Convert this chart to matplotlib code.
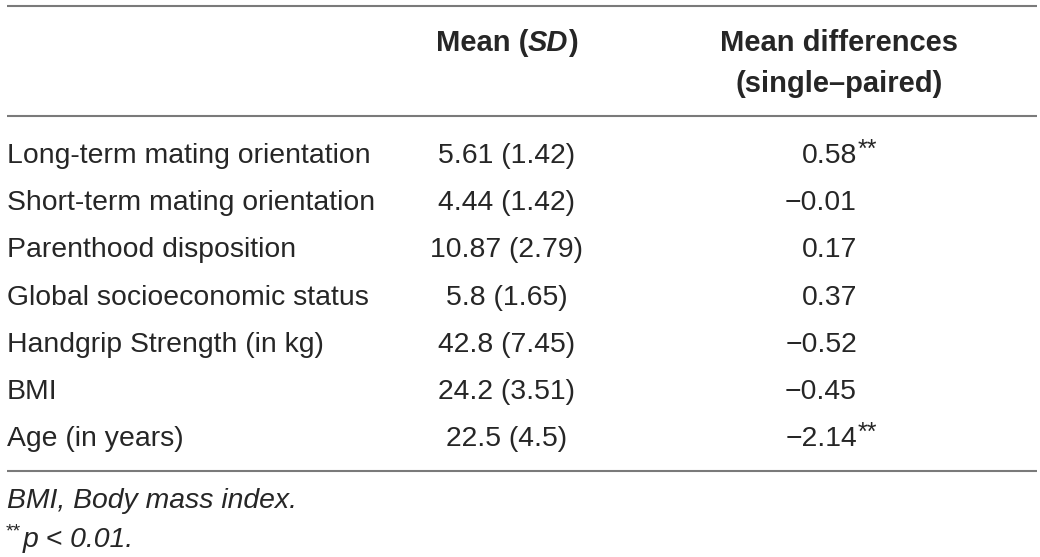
import matplotlib
matplotlib.use("Agg")
import matplotlib.pyplot as plt

# table content
row_labels = ["Long-term mating orientation", "Short-term mating orientation",
              "Parenthood disposition", "Global socioeconomic status",
              "Handgrip Strength (in kg)", "BMI", "Age (in years)"]
means = ["5.61", "4.44", "10.87", "5.8", "42.8", "24.2", "22.5"]
sds = ["1.42", "1.42", "2.79", "1.65", "7.45", "3.51", "4.5"]
diffs = [0.58, -0.01, 0.17, 0.37, -0.52, -0.45, -2.14]
diff_sig = ["**", "", "", "", "", "", "**"]
footnote_1 = "BMI, Body mass index."
footnote_2 = "p < 0.01."

plt.rcParams['font.family'] = ['Liberation Sans', 'DejaVu Sans']
txt_color = "#262626"
line_color = "#7a7a7a"
fs = 20.4

fig = plt.figure(figsize=(10.4, 5.57), dpi=100)
ax = fig.add_axes([0, 0, 1, 1])
ax.set_xlim(0, 1040)
ax.set_ylim(557, 0)
ax.axis("off")

renderer = fig.canvas.get_renderer()


def text_width(s, **kw):
    t = ax.text(0, 0, s, fontsize=kw.pop("fontsize", fs), **kw)
    bb = t.get_window_extent(renderer=renderer)
    t.remove()
    return bb.width


def draw_runs(xc, y, runs, size):
    # runs: list of (text, kwargs), drawn side by side, centred on xc
    widths = [text_width(s, fontsize=size, **kw) for s, kw in runs]
    x = xc - sum(widths) / 2
    for (s, kw), w in zip(runs, widths):
        ax.text(x, y, s, fontsize=size, color=txt_color, va="baseline", ha="left", **kw)
        x += w


# rules
for y in [6, 116, 471]:
    ax.plot([7, 1037], [y, y], color=line_color, lw=1.5, solid_capstyle="butt")

# header
head_fs = 21
col1_x = 507
col2_x = 839
draw_runs(col1_x, 51, [("Mean (", dict(fontweight="bold")),
                       ("SD", dict(fontweight="bold", fontstyle="italic")),
                       (")", dict(fontweight="bold"))], head_fs)
ax.text(col2_x, 51, "Mean differences", fontsize=head_fs, fontweight="bold",
        color=txt_color, ha="center", va="baseline")
ax.text(col2_x, 92, "(single\u2013paired)", fontsize=head_fs, fontweight="bold",
        color=txt_color, ha="center", va="baseline")

# body rows
y0 = 163
step = 47.2
num_right = 857
for i, lab in enumerate(row_labels):
    y = y0 + i * step
    ax.text(7, y, lab, fontsize=fs, color=txt_color, va="baseline", ha="left")
    ax.text(col1_x, y, f"{means[i]} ({sds[i]})", fontsize=fs, color=txt_color,
            va="baseline", ha="center")
    d = f"{diffs[i]:.2f}".replace("-", "\u2212")
    ax.text(num_right, y, d, fontsize=fs, color=txt_color, va="baseline", ha="right")
    if diff_sig[i]:
        ax.text(num_right + 1, y - 6, diff_sig[i], fontsize=18, color=txt_color,
                va="baseline", ha="left")

# footnotes
ax.text(7, 508, footnote_1, fontsize=fs, fontstyle="italic", color=txt_color,
        va="baseline", ha="left")
ax.text(6, 536, "**", fontsize=14, color=txt_color, va="baseline", ha="left")
ax.text(23, 547, footnote_2, fontsize=fs, fontstyle="italic", color=txt_color,
        va="baseline", ha="left")

fig.savefig("out.png", dpi=100)
